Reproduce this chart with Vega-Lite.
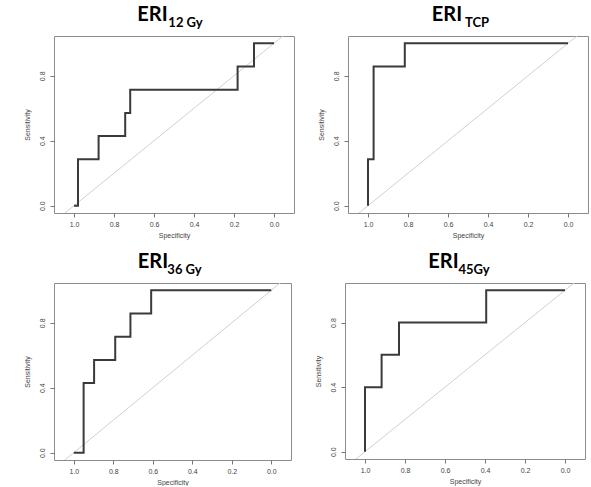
{
  "$schema": "https://vega.github.io/schema/vega-lite/v6.json",
  "background": "white",
  "padding": {"left": 22, "top": 4, "right": 0, "bottom": 0},
  "config": {
    "view": {"stroke": "#8c8c8c", "strokeWidth": 1},
    "axis": {
      "grid": false,
      "domain": false,
      "ticks": true,
      "tickSize": 4,
      "tickColor": "#777",
      "labelFont": "Liberation Sans",
      "labelFontSize": 7,
      "labelColor": "#444",
      "labelOverlap": false,
      "titleFont": "Liberation Sans",
      "titleFontSize": 7,
      "titleFontWeight": "normal",
      "titleColor": "#444"
    },
    "axisX": {"labelPadding": 3, "titlePadding": 4.5},
    "axisY": {"labelAngle": 270, "labelAlign": "center", "labelBaseline": "bottom", "labelPadding": 5, "titlePadding": 8},
    "title": {
      "font": "Lato",
      "fontWeight": "bold",
      "fontSize": 20,
      "color": "black",
      "anchor": "middle",
      "align": "left",
      "offset": 11
    }
  },
  "datasets": {
    "roc": [
      {"panel": "12", "i": 1, "spec": 1.0, "sens": 0.0},
      {"panel": "12", "i": 2, "spec": 0.98, "sens": 0.0},
      {"panel": "12", "i": 3, "spec": 0.98, "sens": 0.286},
      {"panel": "12", "i": 4, "spec": 0.877, "sens": 0.286},
      {"panel": "12", "i": 5, "spec": 0.877, "sens": 0.429},
      {"panel": "12", "i": 6, "spec": 0.744, "sens": 0.429},
      {"panel": "12", "i": 7, "spec": 0.744, "sens": 0.571},
      {"panel": "12", "i": 8, "spec": 0.719, "sens": 0.571},
      {"panel": "12", "i": 9, "spec": 0.719, "sens": 0.714},
      {"panel": "12", "i": 10, "spec": 0.182, "sens": 0.714},
      {"panel": "12", "i": 11, "spec": 0.182, "sens": 0.857},
      {"panel": "12", "i": 12, "spec": 0.1, "sens": 0.857},
      {"panel": "12", "i": 13, "spec": 0.1, "sens": 1.0},
      {"panel": "12", "i": 14, "spec": 0.0, "sens": 1.0},
      {"panel": "TCP", "i": 1, "spec": 1.0, "sens": 0.0},
      {"panel": "TCP", "i": 2, "spec": 1.0, "sens": 0.286},
      {"panel": "TCP", "i": 3, "spec": 0.972, "sens": 0.286},
      {"panel": "TCP", "i": 4, "spec": 0.972, "sens": 0.857},
      {"panel": "TCP", "i": 5, "spec": 0.816, "sens": 0.857},
      {"panel": "TCP", "i": 6, "spec": 0.816, "sens": 1.0},
      {"panel": "TCP", "i": 7, "spec": 0.0, "sens": 1.0},
      {"panel": "36", "i": 1, "spec": 1.0, "sens": 0.0},
      {"panel": "36", "i": 2, "spec": 0.95, "sens": 0.0},
      {"panel": "36", "i": 3, "spec": 0.95, "sens": 0.429},
      {"panel": "36", "i": 4, "spec": 0.897, "sens": 0.429},
      {"panel": "36", "i": 5, "spec": 0.897, "sens": 0.571},
      {"panel": "36", "i": 6, "spec": 0.79, "sens": 0.571},
      {"panel": "36", "i": 7, "spec": 0.79, "sens": 0.714},
      {"panel": "36", "i": 8, "spec": 0.713, "sens": 0.714},
      {"panel": "36", "i": 9, "spec": 0.713, "sens": 0.857},
      {"panel": "36", "i": 10, "spec": 0.608, "sens": 0.857},
      {"panel": "36", "i": 11, "spec": 0.608, "sens": 1.0},
      {"panel": "36", "i": 12, "spec": 0.0, "sens": 1.0},
      {"panel": "45", "i": 1, "spec": 1.0, "sens": 0.0},
      {"panel": "45", "i": 2, "spec": 1.0, "sens": 0.4},
      {"panel": "45", "i": 3, "spec": 0.917, "sens": 0.4},
      {"panel": "45", "i": 4, "spec": 0.917, "sens": 0.6},
      {"panel": "45", "i": 5, "spec": 0.83, "sens": 0.6},
      {"panel": "45", "i": 6, "spec": 0.83, "sens": 0.8},
      {"panel": "45", "i": 7, "spec": 0.394, "sens": 0.8},
      {"panel": "45", "i": 8, "spec": 0.394, "sens": 1.0},
      {"panel": "45", "i": 9, "spec": 0.0, "sens": 1.0}
    ],
    "diag": [
      {"spec": 1.1, "sens": -0.1},
      {"spec": -0.1, "sens": 1.1}
    ]
  },
  "spacing": 12,
  "vconcat": [
    {
      "spacing": 21,
      "hconcat": [
        {
          "title": {"text": "12 Gy", "fontSize": 13, "dx": 27, "offset": -25},
          "vconcat": [
            {
              "width": 240, "height": 177,
              "title": {"text": "ERI", "dx": -21.5},
              "layer": [
                {"data": {"name": "diag"}, "mark": {"type": "line", "color": "#d0d0d0", "strokeWidth": 1, "clip": true},
                 "encoding": {
                   "x": {"field": "spec", "type": "quantitative", "scale": {"domain": [1.1, -0.1], "nice": false, "zero": false}, "axis": {"title": "Specificity", "values": [1, 0.8, 0.6, 0.4, 0.2, 0], "format": ".1f"}},
                   "y": {"field": "sens", "type": "quantitative", "scale": {"domain": [-0.045, 1.045], "nice": false, "zero": false}, "axis": {"title": "Sensitivity", "values": [0, 0.2, 0.4, 0.6, 0.8, 1], "format": ".1f"}}
                 }},
                {"data": {"name": "roc"}, "transform": [{"filter": "datum.panel === '12'"}],
                 "mark": {"type": "line", "color": "#3a3a3a", "strokeWidth": 2},
                 "encoding": {
                   "x": {"field": "spec", "type": "quantitative"},
                   "y": {"field": "sens", "type": "quantitative"},
                   "order": {"field": "i", "type": "quantitative"}
                 }}
              ]
            }
          ]
        },
        {
          "title": {"text": "TCP", "fontSize": 13, "dx": 24.5, "offset": -25},
          "vconcat": [
            {
              "width": 240, "height": 177,
              "title": {"text": "ERI", "dx": -21},
              "layer": [
                {"data": {"name": "diag"}, "mark": {"type": "line", "color": "#d0d0d0", "strokeWidth": 1, "clip": true},
                 "encoding": {
                   "x": {"field": "spec", "type": "quantitative", "scale": {"domain": [1.1, -0.1], "nice": false, "zero": false}, "axis": {"title": "Specificity", "values": [1, 0.8, 0.6, 0.4, 0.2, 0], "format": ".1f"}},
                   "y": {"field": "sens", "type": "quantitative", "scale": {"domain": [-0.045, 1.045], "nice": false, "zero": false}, "axis": {"title": "Sensitivity", "values": [0, 0.2, 0.4, 0.6, 0.8, 1], "format": ".1f"}}
                 }},
                {"data": {"name": "roc"}, "transform": [{"filter": "datum.panel === 'TCP'"}],
                 "mark": {"type": "line", "color": "#3a3a3a", "strokeWidth": 2},
                 "encoding": {
                   "x": {"field": "spec", "type": "quantitative"},
                   "y": {"field": "sens", "type": "quantitative"},
                   "order": {"field": "i", "type": "quantitative"}
                 }}
              ]
            }
          ]
        }
      ]
    },
    {
      "spacing": 21,
      "hconcat": [
        {
          "title": {"text": "36 Gy", "fontSize": 13, "dx": 27.5, "offset": -25},
          "vconcat": [
            {
              "width": 237, "height": 177,
              "title": {"text": "ERI", "dx": -19.5},
              "layer": [
                {"data": {"name": "diag"}, "mark": {"type": "line", "color": "#d0d0d0", "strokeWidth": 1, "clip": true},
                 "encoding": {
                   "x": {"field": "spec", "type": "quantitative", "scale": {"domain": [1.1, -0.1], "nice": false, "zero": false}, "axis": {"title": "Specificity", "values": [1, 0.8, 0.6, 0.4, 0.2, 0], "format": ".1f"}},
                   "y": {"field": "sens", "type": "quantitative", "scale": {"domain": [-0.045, 1.045], "nice": false, "zero": false}, "axis": {"title": "Sensitivity", "values": [0, 0.2, 0.4, 0.6, 0.8, 1], "format": ".1f"}}
                 }},
                {"data": {"name": "roc"}, "transform": [{"filter": "datum.panel === '36'"}],
                 "mark": {"type": "line", "color": "#3a3a3a", "strokeWidth": 2},
                 "encoding": {
                   "x": {"field": "spec", "type": "quantitative"},
                   "y": {"field": "sens", "type": "quantitative"},
                   "order": {"field": "i", "type": "quantitative"}
                 }}
              ]
            }
          ]
        },
        {
          "title": {"text": "45Gy", "fontSize": 13, "dx": 24.5, "offset": -25},
          "vconcat": [
            {
              "width": 240, "height": 176,
              "title": {"text": "ERI", "dx": -21.5},
              "layer": [
                {"data": {"name": "diag"}, "mark": {"type": "line", "color": "#d0d0d0", "strokeWidth": 1, "clip": true},
                 "encoding": {
                   "x": {"field": "spec", "type": "quantitative", "scale": {"domain": [1.1, -0.1], "nice": false, "zero": false}, "axis": {"title": "Specificity", "values": [1, 0.8, 0.6, 0.4, 0.2, 0], "format": ".1f"}},
                   "y": {"field": "sens", "type": "quantitative", "scale": {"domain": [-0.045, 1.045], "nice": false, "zero": false}, "axis": {"title": "Sensitivity", "values": [0, 0.2, 0.4, 0.6, 0.8, 1], "format": ".1f"}}
                 }},
                {"data": {"name": "roc"}, "transform": [{"filter": "datum.panel === '45'"}],
                 "mark": {"type": "line", "color": "#3a3a3a", "strokeWidth": 2},
                 "encoding": {
                   "x": {"field": "spec", "type": "quantitative"},
                   "y": {"field": "sens", "type": "quantitative"},
                   "order": {"field": "i", "type": "quantitative"}
                 }}
              ]
            }
          ]
        }
      ]
    }
  ]
}
